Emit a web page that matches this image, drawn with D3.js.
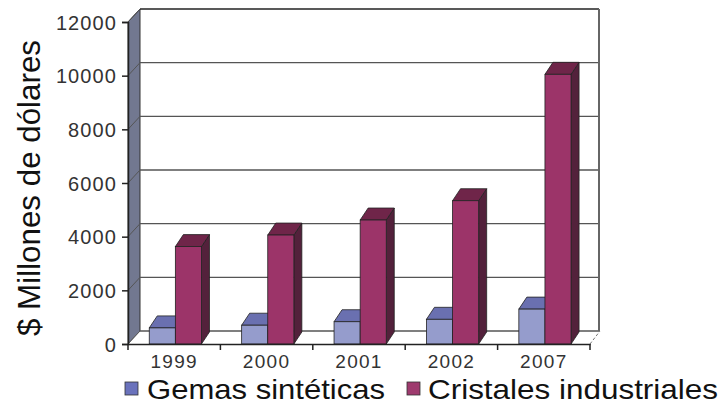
<!DOCTYPE html>
<html><head><meta charset="utf-8">
<script src="https://cdn.jsdelivr.net/npm/d3@7/dist/d3.min.js"></script>
<style>html,body{margin:0;padding:0;background:#fff;}svg{display:block;}</style>
</head><body>
<script>
const years = ["1999","2000","2001","2002","2007"];
const seriesNames = ["Gemas sintéticas","Cristales industriales"];
const gemas = [600, 700, 830, 920, 1300];
const cristales = [3630, 4060, 4620, 5340, 10050];
const yTicks = [0,2000,4000,6000,8000,10000,12000];
const yTitle = "$ Millones de dólares";

const W=722,H=404;
const svg=d3.select("body").append("svg").attr("width",W).attr("height",H);
const font="Liberation Sans, Arial, sans-serif";

const x0=128,x1=590, yBase=344, yTop=22;
const wdx=12, wdy=-13;   // wall depth
const bdx=8, bdy=-12;    // bar depth
const x=d3.scaleBand().domain(years).range([x0,x1]);
const bw=x.bandwidth();
const xs=d3.scaleBand().domain(seriesNames).range([bw*0.23,bw*0.795]);
const y=d3.scaleLinear().domain([0,12000]).range([yBase,yTop]);

// left wall
svg.append("path").attr("d",`M${x0},${yBase}L${x0},${yTop}L${x0+wdx},${yTop+wdy}L${x0+wdx},${yBase+wdy}Z`)
  .attr("fill","#727890").attr("stroke","#333").attr("stroke-width",1);
// floor
svg.append("path").attr("d",`M${x0},${yBase}L${x0+wdx},${yBase+wdy}L${x1+wdx-2},${yBase+wdy}L${x1},${yBase}Z`)
  .attr("fill","#fff").attr("stroke","none");
// gridlines on back wall + wall diagonals
yTicks.forEach(t=>{
  const yy=y(t)+wdy;
  svg.append("line").attr("x1",x0+wdx).attr("x2",x1+9).attr("y1",yy).attr("y2",yy)
    .attr("stroke",t===12000?"#222":"#555").attr("stroke-width",t===12000?1.6:1.4);
  svg.append("line").attr("x1",x0).attr("y1",y(t)).attr("x2",x0+wdx).attr("y2",yy)
    .attr("stroke","#555").attr("stroke-width",1);
});
// back wall right edge
svg.append("line").attr("x1",x1+9).attr("x2",x1+9).attr("y1",y(12000)+wdy).attr("y2",yBase+wdy)
  .attr("stroke","#666").attr("stroke-width",2);
// floor right diagonal
svg.append("line").attr("x1",x1).attr("y1",yBase).attr("x2",x1+10).attr("y2",yBase+wdy)
  .attr("stroke","#777").attr("stroke-width",1).attr("stroke-dasharray","3,2");

// bars
const cols=[{front:"#959ccc",top:"#6a70b0",side:"#4b5090"},{front:"#9c3469",top:"#6f2549",side:"#53213b"}];
const data=[gemas,cristales];
const g=svg.append("g");
years.forEach((yr,i)=>{
  seriesNames.forEach((s,k)=>{
    const v=data[k][i];
    const bx=x(yr)+xs(s), w=xs.bandwidth(), ty=y(v);
    const c=cols[k];
    g.append("path").attr("d",`M${bx+w},${yBase}L${bx+w},${ty}L${bx+w+bdx},${ty+bdy}L${bx+w+bdx},${yBase+bdy}Z`)
      .attr("fill",c.side).attr("stroke","#222").attr("stroke-width",0.8);
    g.append("path").attr("d",`M${bx},${ty}L${bx+bdx},${ty+bdy}L${bx+w+bdx},${ty+bdy}L${bx+w},${ty}Z`)
      .attr("fill",c.top).attr("stroke","#222").attr("stroke-width",0.8);
    g.append("rect").attr("x",bx).attr("y",ty).attr("width",w).attr("height",yBase-ty)
      .attr("fill",c.front).attr("stroke","#222").attr("stroke-width",0.8);
  });
});

// y axis
const ya=svg.append("g").attr("transform",`translate(${x0},0)`)
  .call(d3.axisLeft(y).tickValues(yTicks).tickSize(6).tickPadding(5).tickFormat(d3.format("d")));
ya.select(".domain").attr("stroke","#222").attr("stroke-width",1.5);
ya.selectAll(".tick line").attr("stroke","#222").attr("stroke-width",1.5);
ya.selectAll(".tick text").attr("font-family",font).attr("font-size",20).attr("fill","#333")
  .attr("letter-spacing",1.1).attr("dy","0.36em");

// x axis
const xa=svg.append("g").attr("transform",`translate(0,${yBase})`)
  .call(d3.axisBottom(x).tickSize(0).tickPadding(11));
xa.select(".domain").attr("stroke","#222").attr("stroke-width",1.5);
xa.selectAll(".tick text").attr("font-family",font).attr("font-size",19).attr("fill","#333").attr("letter-spacing",1.3);
const bounds=years.map(d=>x(d)).concat([x1]);
svg.selectAll(".xtick").data(bounds).enter().append("line")
  .attr("x1",d=>d).attr("x2",d=>d).attr("y1",yBase).attr("y2",yBase+6)
  .attr("stroke","#222").attr("stroke-width",1.5);

// y title
svg.append("text").attr("transform",`translate(40,${188}) rotate(-90)`)
  .attr("text-anchor","middle").attr("font-family",font).attr("font-size",32)
  .attr("textLength",296).attr("lengthAdjust","spacingAndGlyphs").attr("fill","#111").text(yTitle);

// legend
const leg=[{x:125,tx:147,tl:238},{x:407,tx:428,tl:290}];
const legCols=["#6a72bc","#9e3a6e"];
seriesNames.forEach((s,k)=>{
  svg.append("rect").attr("x",leg[k].x).attr("y",382).attr("width",13).attr("height",13)
    .attr("fill",legCols[k]).attr("stroke","#333").attr("stroke-width",0.8);
  svg.append("text").attr("x",leg[k].tx).attr("y",398.5).attr("font-family",font).attr("font-size",28)
    .attr("textLength",leg[k].tl).attr("lengthAdjust","spacingAndGlyphs").attr("fill","#111").text(s);
});
</script>
</body></html>
